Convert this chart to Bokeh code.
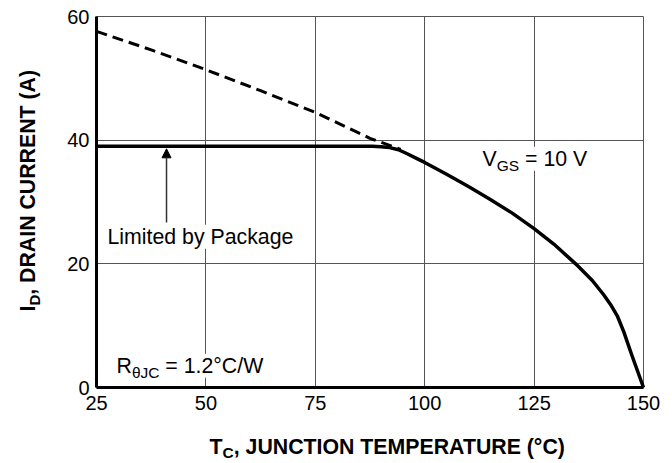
import math
from bokeh.plotting import figure
from bokeh.models import Range1d, Label, Arrow, NormalHead, FixedTicker
from bokeh.embed import file_html
from bokeh.resources import INLINE

# ---- data ----
tc_solid = [25, 60, 86, 88, 90, 92, 94, 96, 98, 100, 105, 110, 115, 120, 125, 129.5, 134.5,
            138.3, 140.9, 142.5, 144.0, 145.5, 147.4, 150]
id_solid = [39.0, 39.0, 39.0, 39.0, 38.95, 38.8, 38.45, 37.8, 37.1, 36.4, 34.5, 32.5, 30.4, 28.2, 25.7, 23.2, 20.0,
            17.3, 15.0, 13.4, 11.6, 9.0, 5.1, 0.0]

tc_dash = [25, 37.5, 50, 62.5, 75, 87.5, 94.5]
id_dash = [57.6, 54.6, 51.4, 48.0, 44.5, 40.3, 38.5]

x_ticks = [25, 50, 75, 100, 125, 150]
y_ticks = [0, 20, 40, 60]
x_min, x_max = 25, 150
y_min, y_max = 0, 60

arrow_x = 41.0
arrow_y0 = 26.7
arrow_y1 = 38.6

FONT = "Liberation Sans"
WIDTH, HEIGHT = 672, 463
# plot area in picture pixels
FL, FR, FT, FB = 96, 643, 16, 387

def dx(px):
    return x_min + (px - FL) * (x_max - x_min) / (FR - FL)

def dy(py):
    return y_min + (FB - py) * (y_max - y_min) / (FB - FT)

# Arial-like advance widths (em) for composing sub-scripted texts
W = {" ": .278, "=": .584, "1": .556, "0": .556, ".": .278, "2": .556, "°": .4,
     "C": .722, "/": .278, "W": .944, "V": .667, "R": .722, "I": .278, "T": .611,
     "D": .722, "G": .778, "S": .667, "J": .5, "θ": .556}

def tw(s, size):
    return sum(W.get(c, .6) for c in s) * size

# the frame covers the whole canvas; axes are pinned at x=25 / y=0
p = figure(width=WIDTH, height=HEIGHT, output_backend="svg", toolbar_location=None,
           x_range=Range1d(dx(0), dx(WIDTH)), y_range=Range1d(dy(HEIGHT), dy(0)),
           min_border=0, min_border_left=0, min_border_right=0, min_border_top=0, min_border_bottom=0)
p.background_fill_color = "white"
p.border_fill_color = "white"
p.outline_line_color = None

p.xaxis.fixed_location = y_min
p.yaxis.fixed_location = x_min
p.xaxis.bounds = (x_min, x_max)
p.yaxis.bounds = (y_min, y_max)

for ax, tk in ((p.xaxis, x_ticks), (p.yaxis, y_ticks)):
    ax.ticker = FixedTicker(ticks=tk)
    ax.axis_line_width = 3
    ax.axis_line_color = "black"
    ax.major_tick_line_color = None
    ax.minor_tick_line_color = None
    ax.major_tick_out = 0
    ax.major_tick_in = 0
    ax.major_label_text_font = FONT
    ax.major_label_text_font_size = "20px"
    ax.major_label_text_color = "black"
p.xaxis.major_label_standoff = 8
p.yaxis.major_label_standoff = 7

p.xgrid.ticker = FixedTicker(ticks=x_ticks)
p.ygrid.ticker = FixedTicker(ticks=y_ticks)
p.xgrid.bounds = (x_min, x_max)
p.ygrid.bounds = (y_min, y_max)
p.xgrid.cross_bounds = (y_min, y_max)
p.ygrid.cross_bounds = (x_min, x_max)
for g in (p.xgrid, p.ygrid):
    g.grid_line_color = "#555555"
    g.grid_line_width = 1

p.line(tc_dash, id_dash, line_color="black", line_width=3, line_dash="11 6")
p.line(tc_solid, id_solid, line_color="black", line_width=3.5, line_join="round")

p.add_layout(Arrow(end=NormalHead(size=9, fill_color="black", line_color="black"),
                   x_start=arrow_x, y_start=arrow_y0, x_end=arrow_x, y_end=arrow_y1,
                   line_color="#333333", line_width=1.5))

SHIFT = 0.36  # observed baseline offset of rendered labels (em)

def lab(text, px, py, size, bold=False, angle=0.0, bg=True):
    if angle == 0.0:
        py = py - SHIFT * size
    else:
        px = px - SHIFT * size
    l = Label(x=dx(px), y=dy(py), text=text, text_font=FONT, text_font_size=f"{size}px",
              text_font_style="bold" if bold else "normal", text_color="black",
              text_align="left", text_baseline="alphabetic", angle=angle)
    if bg:
        l.background_fill_color = "white"
    p.add_layout(l)

AS = 21.3   # annotation size
SS = 15.5   # subscript size

# V_GS = 10 V
L, B = 482, 166
lab("V", L, B, AS)
lab("GS", L + tw("V", AS), B + 4.5, SS)
lab("= 10 V", L + tw("V", AS) + tw("GS", SS) + tw(" ", AS), B, AS)

# Limited by Package
lab("Limited by Package", 107, 244, AS)

# R_thetaJC = 1.2°C/W
L, B = 116, 373
lab("R", L, B, AS)
lab("θJC", L + tw("R", AS), B + 4.5, SS)
lab("= 1.2°C/W", L + tw("R", AS) + tw("θJC", SS) + tw(" ", AS), B, AS)

# x axis title (bold, with subscript)
TS, TSS = 21.3, 15.5
rest_x = ", JUNCTION TEMPERATURE (°C)"
rest_w = 15.622 * TS
total = tw("T", TS) + tw("C", TSS) + rest_w
L = 387.5 - total / 2
B = 454
lab("T", L, B, TS, bold=True, bg=False)
lab("C", L + tw("T", TS), B + 4, TSS, bold=True, bg=False)
lab(rest_x, L + tw("T", TS) + tw("C", TSS), B, TS, bold=True, bg=False)

# y axis title (rotated, bold, with subscript)
YS, YSS = 21.3, 15
BX, BY = 35, 311
up = math.pi / 2
lab("I", BX, BY, YS, bold=True, angle=up, bg=False)
lab("D", BX + 4, BY - tw("I", YS), YSS, bold=True, angle=up, bg=False)
lab(", DRAIN CURRENT (A)", BX, BY - tw("I", YS) - tw("D", YSS), YS, bold=True, angle=up, bg=False)

open("out.html", "w").write(file_html(p, INLINE))
